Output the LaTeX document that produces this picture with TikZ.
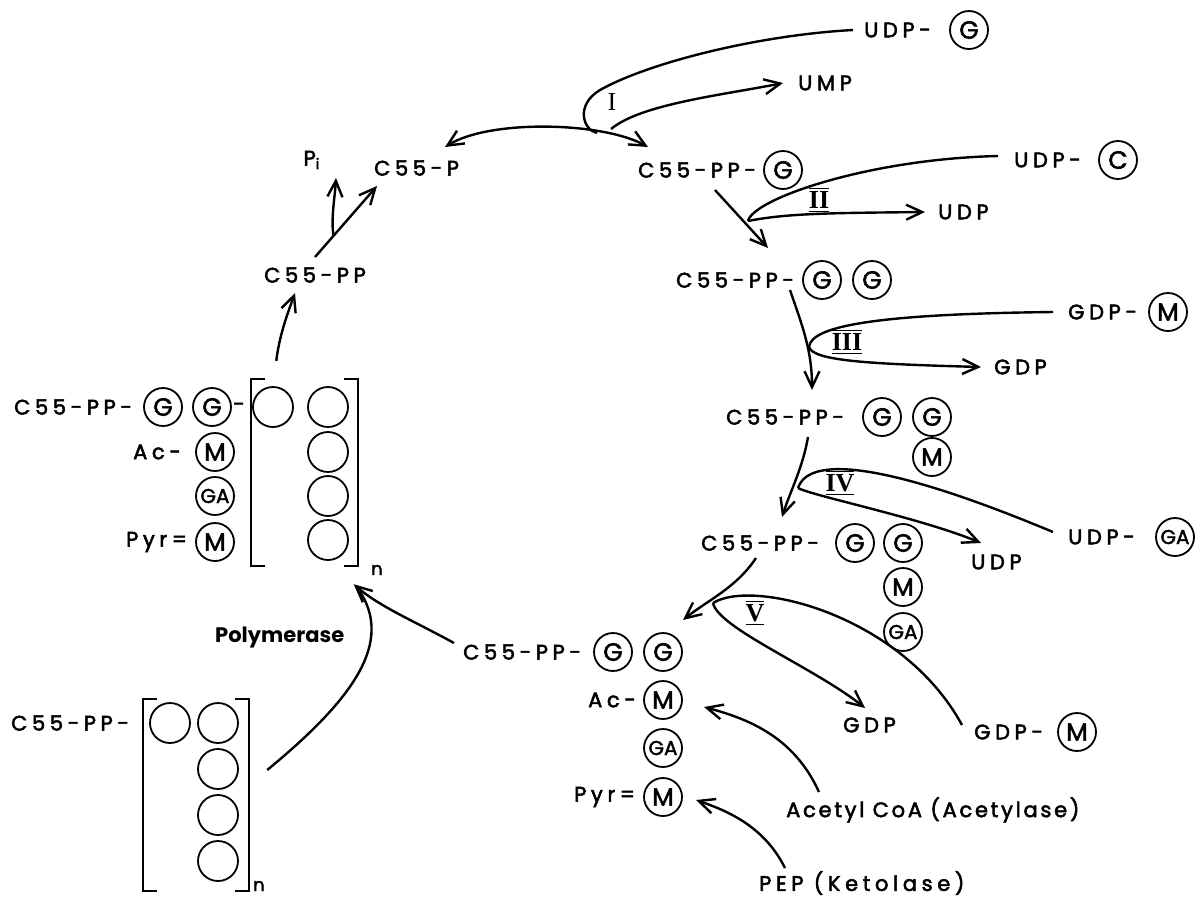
\documentclass[tikz,border=0pt]{standalone}
\usepackage{fontspec}
\setmainfont{Poppins}
\newfontfamily\chemfont{Poppins}[LetterSpace=22,FakeBold=2.5]
\newfontfamily\notefont{Poppins}[LetterSpace=13,FakeBold=2.5]
\newfontfamily\sugfont{Poppins}[FakeBold=2]
\newfontfamily\numfont{Liberation Serif}
\usetikzlibrary{arrows.meta,calc}
\newcommand\rnum[1]{$\overline{\underline{\hbox{\numfont\bfseries #1}}}$}

\begin{document}
\begin{tikzpicture}[x=0.5pt,y=-0.5pt,line width=1.2pt,>={Straight Barb[length=8pt,width=7.5pt]},
  lbl/.style={anchor=west,inner sep=0pt,font=\chemfont\fontsize{10.5}{12}\selectfont},
  note/.style={anchor=west,inner sep=0pt,font=\notefont\fontsize{10.5}{12}\selectfont},
  sug/.style={draw,circle,line width=0.9pt,minimum size=19pt,inner sep=0pt,font=\sugfont\fontsize{12.5}{13}\selectfont},
  suga/.style={sug,font=\sugfont\fontsize{10}{11}\selectfont},
  ring/.style={draw,circle,line width=0.9pt,minimum size=20pt,inner sep=0pt},
  rep/.style={inner sep=0pt,minimum width=52pt},
  num/.style={inner sep=0pt,font=\numfont\fontsize{13}{14}\selectfont}]
  \useasboundingbox (0,0) rectangle (1199,901);

  \node[lbl] (udp1) at (863,30) {UDP-};
  \node[sug] (udp1g) at (969,30) {G};
  \node[lbl] (ump) at (797,83) {UMP};
  \node[num,font=\numfont\fontsize{13}{13}\selectfont] (e1) at (612,102) {I};
  \node[lbl] (cp) at (373,168) {C55-P};
  \node[lbl,anchor=center] (pi) at (312,160) {P\textsubscript{i}};
  \node[lbl] (s1) at (637,170) {C55-PP-};
  \node[sug] (s1g) at (783,170) {G};
  \node[lbl] (udp2) at (1013,160) {UDP-};
  \node[sug] (udp2c) at (1118,160) {C};
  \node[num] (e2) at (819,200) {\rnum{II}};
  \node[lbl] (udpa) at (937,212) {UDP};
  \node[lbl] (s2) at (675,280) {C55-PP-};
  \node[sug] (s2g1) at (822,280) {G};
  \node[sug] (s2g2) at (872,280) {G};
  \node[lbl] (gdp1) at (1067,312) {GDP-};
  \node[sug] (gdp1m) at (1168,312) {M};
  \node[num] (e3) at (847,342) {\rnum{III}};
  \node[lbl] (gdpa) at (993,367) {GDP};
  \node[lbl] (s3) at (725,417) {C55-PP-};
  \node[sug] (s3g1) at (882,417) {G};
  \node[sug] (s3g2) at (932,417) {G};
  \node[sug] (s3m) at (932,457) {M};
  \node[num] (e4) at (840,483) {\rnum{IV}};
  \node[lbl] (udp3) at (1067,537) {UDP-};
  \node[suga] (udp3ga) at (1175,537) {GA};
  \node[lbl] (udpb) at (970,562) {UDP};
  \node[lbl] (s4) at (700,543) {C55-PP-};
  \node[sug] (s4g1) at (855,543) {G};
  \node[sug] (s4g2) at (903,543) {G};
  \node[sug] (s4m) at (903,587) {M};
  \node[suga] (s4ga) at (903,632) {GA};
  \node[num] (e5) at (755,613) {\rnum{V}};
  \node[lbl] (gdpb) at (842,725) {GDP};
  \node[lbl] (gdp2) at (973,732) {GDP-};
  \node[sug] (gdp2m) at (1077,732) {M};
  \node[lbl] (s5) at (462,652) {C55-PP-};
  \node[sug] (s5g1) at (613,652) {G};
  \node[sug] (s5g2) at (663,652) {G};
  \node[lbl] (s5ac) at (587,700) {Ac-};
  \node[sug] (s5m1) at (663,700) {M};
  \node[suga] (s5ga) at (663,748) {GA};
  \node[lbl] (s5pyr) at (573,797) {Pyr=};
  \node[sug] (s5m2) at (663,797) {M};
  \node[note] (acoa) at (785,810) {Acetyl CoA (Acetylase)};
  \node[lbl] (pep) at (758,883) {PEP (Ketolase)};
  \node[note,font=\bfseries\fontsize{10.5}{12}\selectfont] (pol) at (214,637) {Polymerase};

  \node[lbl] (pp) at (263,275) {C55-PP};
  \node[lbl] (l1) at (13,407) {C55-PP-};
  \node[sug] (l1g1) at (163,407) {G};
  \node[sug] (l1g2) at (212,407) {G};
  \node[lbl] (l1d) at (232,407) {-};
  \node[lbl] (l1ac) at (132,452) {Ac-};
  \node[sug] (l1m1) at (215,452) {M};
  \node[suga] (l1ga) at (215,496) {GA};
  \node[lbl] (l1pyr) at (125,542) {Pyr=};
  \node[sug] (l1m2) at (215,542) {M};
  \node[rep,minimum height=92.5pt] (br1) at (304.5,472.5) {};
  \node[ring] (r11) at (273,407) {};
  \node[ring] (r12) at (328,407) {};
  \node[ring] (r13) at (328,452) {};
  \node[ring] (r14) at (328,496) {};
  \node[ring] (r15) at (328,540) {};
  \node[lbl,font=\sugfont\fontsize{9}{10}\selectfont] (n1) at (370,570) {n};

  \node[lbl] (l2) at (10,723) {C55-PP-};
  \node[rep,minimum height=95pt] (br2) at (196,795) {};
  \node[ring] (r21) at (170,723) {};
  \node[ring] (r22) at (218,723) {};
  \node[ring] (r23) at (218,769) {};
  \node[ring] (r24) at (218,815) {};
  \node[ring] (r25) at (218,861) {};
  \node[lbl,font=\sugfont\fontsize{9}{10}\selectfont] (n2) at (252,886) {n};

  \draw[line width=1.1pt] ([xshift=7pt]br1.north west) -- (br1.north west) -- (br1.south west) -- ([xshift=7pt]br1.south west);
  \draw[line width=1.1pt] ([xshift=-7pt]br1.north east) -- (br1.north east) -- (br1.south east) -- ([xshift=-7pt]br1.south east);
  \draw[line width=1.1pt] ([xshift=7pt]br2.north west) -- (br2.north west) -- (br2.south west) -- ([xshift=7pt]br2.south west);
  \draw[line width=1.1pt] ([xshift=-7pt]br2.north east) -- (br2.north east) -- (br2.south east) -- ([xshift=-7pt]br2.south east);

  \coordinate (h1) at (597,133);
  \coordinate (h2) at (748,221);
  \coordinate (h3) at (809,347);
  \coordinate (h4) at (798,488);
  \coordinate (h5) at (713,603);
  \coordinate (pa) at ([shift={(52,-18)}]pp.west);
  \coordinate (pb) at ([shift={(4,18)}]cp.west);

  \draw[<->] ([shift={(72,-21)}]cp.west) .. controls +(45,-28) and +(-45,-25) .. ([shift={(11,-23)}]s1.west);
  \draw ([xshift=-5pt]udp1.west) .. controls +(-93,5) and +(50,-28) .. (600,90) .. controls +(-25,15) and +(-14,-3) .. (h1);
  \draw[->] ([shift={(14,-4)}]h1) .. controls +(30,-25) and +(-60,12) .. ([xshift=-7pt]ump.west);

  \draw[->] ([shift={(78,20)}]s1.west) -- ([shift={(-54,-32)}]s2g1.center);
  \draw ([shift={(-15,-4)}]udp2.west) .. controls +(-130,3) and +(5,-22) .. (h2);
  \draw[->] (h2) .. controls +(40,-8) and +(-90,1) .. ([xshift=-6pt]udpa.west);

  \draw[->] ([shift={(115,10)}]s2.west) .. controls +(12,35) and +(0,-40) .. ([shift={(-70,-27)}]s3g1.center);
  \draw ([xshift=-7pt]gdp1.west) .. controls +(-170,2) and +(2,-22) .. (h3);
  \draw[->] (h3) .. controls +(4,14) and +(-110,-3) .. ([xshift=-6pt]gdpa.west);

  \draw[->] ([shift={(83,20)}]s3.west) .. controls +(-5,30) and +(8,-25) .. ([shift={(82,-26)}]s4.west);
  \draw ([shift={(-14,-5)}]udp3.west) .. controls +(-153,-64) and +(12,-36) .. (h4);
  \draw[->] (h4) .. controls +(15,8) and +(-60,-25) .. ([shift={(11,-19)}]udpb.west);

  \draw[->] ([shift={(56,15)}]s4.west) .. controls +(-20,30) and +(25,-20) .. ([shift={(70,-32)}]s5g1.center);
  \draw ([shift={(-11,-7)}]gdp2.west) .. controls +(-60,-110) and +(40,-25) .. (h5);
  \draw[->] (h5) .. controls +(5,25) and +(-50,-40) .. ([shift={(23,-17)}]gdpb.west);

  \draw[->] ([shift={(34,-18)}]acoa.west) .. controls +(-25,-55) and +(45,12) .. ([shift={(41,7)}]s5m1.center);
  \draw[->] ([shift={(27,-15)}]pep.west) .. controls +(-20,-40) and +(35,12) .. ([shift={(33,3)}]s5m2.center);

  \draw[->] ([shift={(-8,-9)}]s5.west) .. controls +(-40,-22) and +(25,22) .. ([shift={(-4,18)}]br1.south east);
  \draw ([shift={(18,-25)}]br2.east) .. controls +(85,-70) and +(34,52) .. ([shift={(2,25)}]br1.south east);

  \draw[->] ([shift={(25,-18)}]br1.north west) .. controls +(3,-25) and +(-8,22) .. ([shift={(32,18)}]pp.west);
  \draw[->] (pa) -- (pb);
  \draw[->] ($(pa)!0.3!(pb)$) .. controls +(-3,-15) and +(-1,18) .. ([shift={(24,18)}]pi.center);
\end{tikzpicture}
\end{document}
